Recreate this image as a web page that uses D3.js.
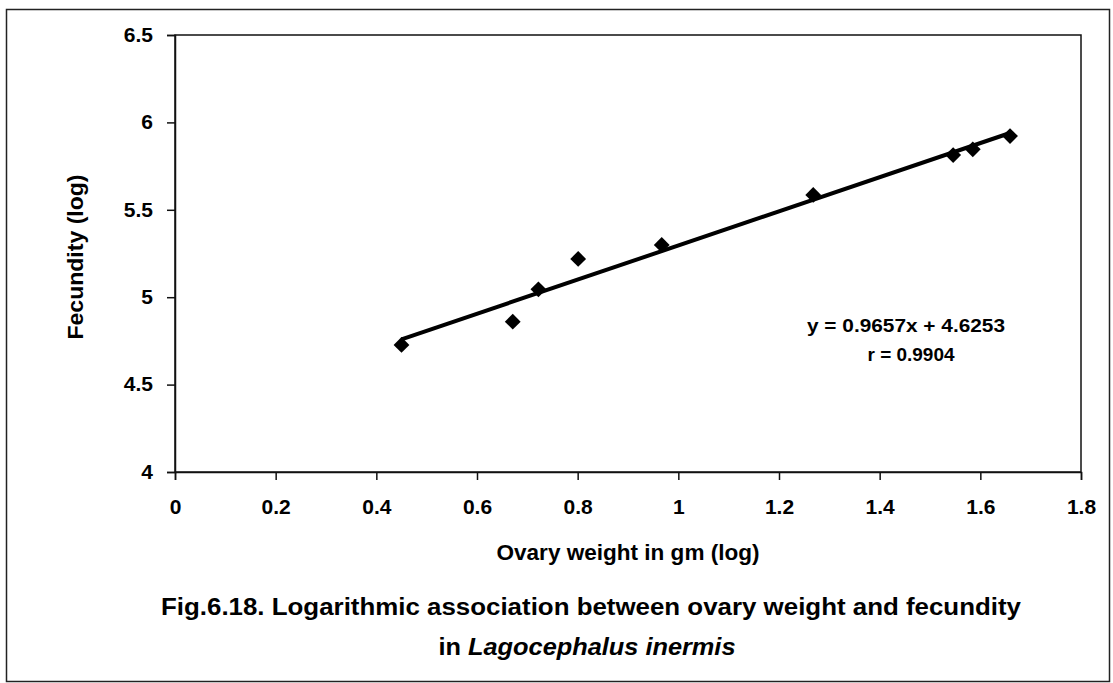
<!DOCTYPE html>
<html>
<head>
<meta charset="utf-8">
<script src="https://cdn.jsdelivr.net/npm/d3@7"></script>
<style>
  html, body { margin: 0; padding: 0; background: #fff; }
  svg { display: block; }
  text { font-family: Arial, "Liberation Sans", sans-serif; font-weight: bold; fill: #000; }
</style>
</head>
<body>
<svg id="chart" width="1113" height="683"></svg>
<script>
// Data
const ovaryWeightLog = [0.450, 0.671, 0.722, 0.801, 0.967, 1.268, 1.546, 1.585, 1.659];
const fecundityLog   = [4.727, 4.860, 5.045, 5.219, 5.299, 5.585, 5.813, 5.846, 5.922];
const xTicks = [0, 0.2, 0.4, 0.6, 0.8, 1, 1.2, 1.4, 1.6, 1.8];
const yTicks = [4, 4.5, 5, 5.5, 6, 6.5];
const equationLines = ["y = 0.9657x + 4.6253", "r = 0.9904"];
const xTitle = "Ovary weight in gm (log)";
const yTitle = "Fecundity (log)";

const svg = d3.select("#chart");

// outer frame
svg.append("rect")
  .attr("x", 6.5).attr("y", 9.5).attr("width", 1103).attr("height", 672)
  .attr("fill", "none").attr("stroke", "#222").attr("stroke-width", 1.5);

const x = d3.scaleLinear().domain([0, 1.8]).range([175, 1081]);
const y = d3.scaleLinear().domain([4, 6.5]).range([472, 35]);

// plot area border
svg.append("rect")
  .attr("x", x(0)).attr("y", y(6.5))
  .attr("width", x(1.8) - x(0)).attr("height", y(4) - y(6.5))
  .attr("fill", "none").attr("stroke", "#111").attr("stroke-width", 1.5);

const fmt = d => String(+d.toFixed(2));

const xAxis = svg.append("g")
  .attr("transform", `translate(0,${y(4)})`)
  .call(d3.axisBottom(x).tickValues(xTicks).tickFormat(fmt).tickSize(8).tickPadding(19));
const yAxis = svg.append("g")
  .attr("transform", `translate(${x(0)},0)`)
  .call(d3.axisLeft(y).tickValues(yTicks).tickFormat(fmt).tickSize(8).tickPadding(14));

[xAxis, yAxis].forEach(g => {
  g.select(".domain").attr("stroke", "#111").attr("stroke-width", 1.5);
  g.selectAll(".tick line").attr("stroke", "#111").attr("stroke-width", 1.5);
  g.selectAll(".tick text")
    .attr("font-family", "Arial, 'Liberation Sans', sans-serif")
    .attr("font-weight", "bold").attr("font-size", 21).attr("fill", "#000");
});
yAxis.selectAll(".tick text").attr("dy", "0.3em");

// regression (least squares from the points)
const n = ovaryWeightLog.length;
const mx = d3.mean(ovaryWeightLog), my = d3.mean(fecundityLog);
let sxy = 0, sxx = 0;
for (let i = 0; i < n; i++) {
  sxy += (ovaryWeightLog[i] - mx) * (fecundityLog[i] - my);
  sxx += (ovaryWeightLog[i] - mx) ** 2;
}
const slope = sxy / sxx, intercept = my - slope * mx;
const xMin = d3.min(ovaryWeightLog), xMax = d3.max(ovaryWeightLog);

svg.append("line")
  .attr("x1", x(xMin)).attr("y1", y(intercept + slope * xMin))
  .attr("x2", x(xMax)).attr("y2", y(intercept + slope * xMax))
  .attr("stroke", "#000").attr("stroke-width", 4);

// points (diamonds)
const diamond = d3.symbol().type(d3.symbolSquare).size(125);
svg.append("g").selectAll("path")
  .data(ovaryWeightLog.map((v, i) => [v, fecundityLog[i]]))
  .join("path")
  .attr("d", diamond)
  .attr("transform", d => `translate(${x(d[0])},${y(d[1])}) rotate(45)`)
  .attr("fill", "#000");

// equation
svg.append("text").attr("x", 906).attr("y", 332).attr("text-anchor", "middle")
  .attr("font-size", 19).attr("textLength", 198).attr("lengthAdjust", "spacingAndGlyphs")
  .text(equationLines[0]);
svg.append("text").attr("x", 911).attr("y", 361).attr("text-anchor", "middle")
  .attr("font-size", 19).attr("textLength", 87).attr("lengthAdjust", "spacingAndGlyphs")
  .text(equationLines[1]);

// axis titles
svg.append("text").attr("x", 628).attr("y", 560).attr("text-anchor", "middle")
  .attr("font-size", 22).attr("textLength", 263).attr("lengthAdjust", "spacingAndGlyphs")
  .text(xTitle);
svg.append("text")
  .attr("transform", "translate(83,257) rotate(-90)")
  .attr("text-anchor", "middle")
  .attr("font-size", 22).attr("textLength", 165).attr("lengthAdjust", "spacingAndGlyphs")
  .text(yTitle);

// caption
svg.append("text").attr("x", 591).attr("y", 615).attr("text-anchor", "middle")
  .attr("font-size", 23).attr("textLength", 860).attr("lengthAdjust", "spacingAndGlyphs")
  .text("Fig.6.18. Logarithmic association between ovary weight and fecundity");
const cap2 = svg.append("text").attr("x", 587).attr("y", 655).attr("text-anchor", "middle")
  .attr("font-size", 23).attr("textLength", 297).attr("lengthAdjust", "spacingAndGlyphs");
cap2.append("tspan").text("in ");
cap2.append("tspan").attr("font-style", "italic").text("Lagocephalus inermis");
</script>
</body>
</html>
